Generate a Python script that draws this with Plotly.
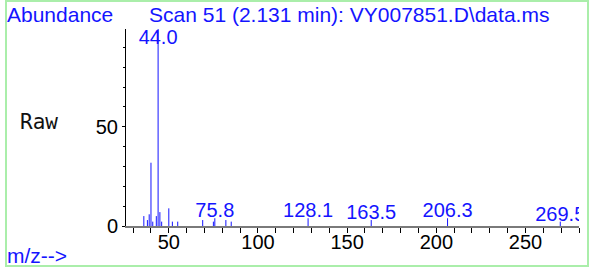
import plotly.graph_objects as go

# ---- data ----
mz = [36, 38, 39, 40, 41, 43, 44.0, 45, 46, 50, 52, 55, 69, 75, 75.8, 82, 85,
      128.1, 163.5, 206.3, 269.5]
abund = [5.0, 3.0, 5.9, 31.9, 2.2, 5.0, 100, 7.0, 2.2, 8.9, 2.2, 2.2, 3.0, 2.2, 3.9, 3.0, 2.2,
         3.9, 3.0, 3.9, 2.2]
label_mz = [44.0, 75.8, 128.1, 163.5, 206.3, 269.5]
label_ab = [100, 3.9, 3.9, 3.0, 3.9, 2.2]
x_ticks = [50, 100, 150, 200, 250]
y_ticks = [0, 50]
title_left = "Abundance"
title_main = "Scan 51 (2.131 min): VY007851.D\\data.ms"
y_label = "Raw"
x_label = "m/z-->"

W, H = 592, 269
L, R, T, B = 126, 13, 29, 43
PW, PH = W - L - R, H - T - B
XR = [26, 280]
YR = [0, 99.3]
LABEL_DROP = 2.0  # label baseline offset (axis units)

BLUE = "#1414ff"
FONT = "Liberation Sans, Arial, sans-serif"

def px2px(px):
    return (px - L) / PW

def py2py(py):
    return (H - B - py) / PH

# stick lines
xs, ys = [], []
for m, a in zip(mz, abund):
    xs += [m, m, None]
    ys += [0, a, None]

fig = go.Figure()
fig.add_trace(go.Scatter(x=xs, y=ys, mode="lines",
                         line=dict(color=BLUE, width=1), hoverinfo="skip",
                         cliponaxis=True, showlegend=False))

# peak labels
lab_y = [min(a, YR[1]) if a >= YR[1] else a - LABEL_DROP for a in label_ab]
lab_pos = ["bottom center" if a >= YR[1] else "top center" for a in label_ab]
fig.add_trace(go.Scatter(x=label_mz, y=lab_y, mode="text",
                         text=[f"{v:.1f}" for v in label_mz],
                         textposition=lab_pos,
                         textfont=dict(family=FONT, size=20, color=BLUE),
                         cliponaxis=True, showlegend=False, hoverinfo="skip"))

fig.update_layout(
    width=W, height=H,
    margin=dict(l=L, r=R, t=T, b=B, pad=0),
    paper_bgcolor="white", plot_bgcolor="white",
    font=dict(family=FONT, size=20, color="black"),
    showlegend=False,
    xaxis=dict(range=XR, showgrid=False, zeroline=False,
               showline=True, linecolor="#7a7a7a", linewidth=2,
               tickmode="array", tickvals=x_ticks, ticktext=[str(v) for v in x_ticks],
               ticks="outside", ticklen=5, tickcolor="black", tickwidth=1,
               ticklabelstandoff=-8,
               minor=dict(dtick=10, tick0=0, ticks="outside", ticklen=5,
                          tickcolor="black", tickwidth=1),
               tickfont=dict(family=FONT, size=20, color="black")),
    yaxis=dict(range=YR, showgrid=False, zeroline=False,
               showline=True, linecolor="black", linewidth=1,
               tickmode="array", tickvals=y_ticks, ticktext=[str(v) for v in y_ticks],
               ticks="outside", ticklen=3, tickcolor="black", tickwidth=1,
               minor=dict(dtick=10, tick0=0, ticks="outside", ticklen=2,
                          tickcolor="black", tickwidth=1),
               tickfont=dict(family=FONT, size=20, color="black")),
)

# border
fig.add_shape(type="rect", xref="paper", yref="paper",
              x0=px2px(6), x1=px2px(588), y0=py2py(266), y1=py2py(1),
              line=dict(color="#aaeeaa", width=2), layer="below")

fig.add_annotation(text=title_left, xref="paper", yref="paper",
                   x=px2px(5), y=py2py(14), xanchor="left", yanchor="middle",
                   showarrow=False, font=dict(family=FONT, size=21, color=BLUE))
fig.add_annotation(text=title_main, xref="paper", yref="paper",
                   x=px2px(147), y=py2py(14), xanchor="left", yanchor="middle",
                   showarrow=False, font=dict(family=FONT, size=21, color=BLUE))
fig.add_annotation(text=y_label, xref="paper", yref="paper",
                   x=px2px(18), y=py2py(122), xanchor="left", yanchor="middle",
                   showarrow=False, font=dict(family="DejaVu Sans Mono", size=21, color="#111111"))
fig.add_annotation(text=x_label, xref="paper", yref="paper",
                   x=px2px(5), y=py2py(255), xanchor="left", yanchor="middle",
                   showarrow=False, font=dict(family=FONT, size=21, color=BLUE))

fig.write_html("out.html",
               config={"displayModeBar": False, "staticPlot": True},
               post_script="document.body.style.margin='0';document.body.style.overflow='hidden';")
